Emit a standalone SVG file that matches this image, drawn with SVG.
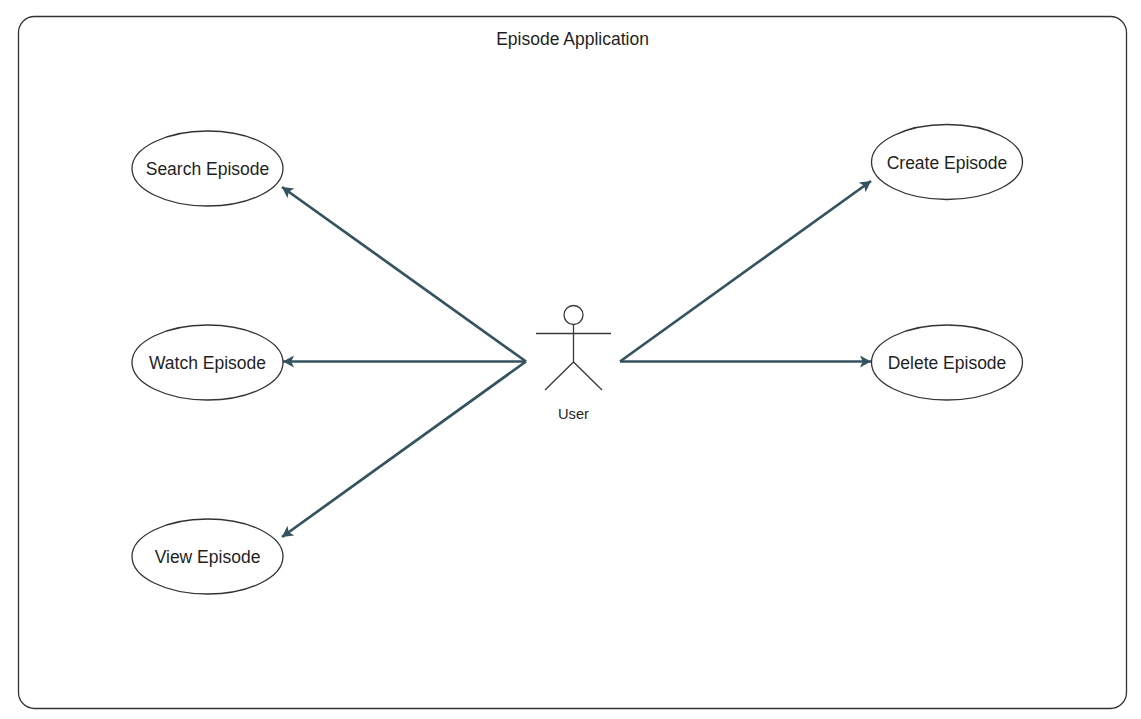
<svg xmlns="http://www.w3.org/2000/svg" width="1141" height="719" viewBox="0 0 1141 719">
<style>
text{font-family:"Liberation Sans",Arial,sans-serif;font-size:17.5px;fill:#1f1f1f;text-anchor:middle}
.s{fill:#fff;stroke:#333;stroke-width:1.3}
.a{fill:none;stroke:#35525f;stroke-width:2.7;marker-end:url(#h)}
.l{fill:none;stroke:#3a3a3a;stroke-width:1.3}
</style>
<defs><marker id="h" markerUnits="userSpaceOnUse" markerWidth="14" markerHeight="14" refX="11" refY="6" orient="auto"><path d="M0 0L11 6L0 12L2.700 6Z" fill="#35525f"/></marker></defs>
<rect width="1141" height="719" fill="#fff"/>
<g id="boundary"><rect class="s" x="18.500" y="16.500" width="1108" height="692" rx="16" ry="16"/><text x="572.500" y="45">Episode Application</text></g>
<g id="connectors">
<path class="a" d="M526 361.500L282 187"/>
<path class="a" d="M526 361.500L283 361.500"/>
<path class="a" d="M526 361.500L282 537"/>
<path class="a" d="M620 361.500L871 181"/>
<path class="a" d="M620 361.500L871 361.500"/>
</g>
<g id="search"><ellipse class="s" cx="207.500" cy="168.500" rx="75.500" ry="37.500"/><text x="207.500" y="175">Search Episode</text></g>
<g id="watch"><ellipse class="s" cx="207.500" cy="362.500" rx="75.500" ry="37.500"/><text x="207.500" y="369">Watch Episode</text></g>
<g id="view"><ellipse class="s" cx="207.500" cy="556.500" rx="75.500" ry="37.500"/><text x="207.500" y="563">View Episode</text></g>
<g id="create"><ellipse class="s" cx="947" cy="162" rx="75.500" ry="37.500"/><text x="947" y="168.500">Create Episode</text></g>
<g id="delete"><ellipse class="s" cx="947" cy="362.500" rx="75.500" ry="37.500"/><text x="947" y="369">Delete Episode</text></g>
<g id="user"><circle class="l" cx="573.500" cy="315" r="9.500"/><path class="l" d="M573.500 324.500V362M536 333.500H611M545 390L573.500 362L602 390"/><text x="573.500" y="419" style="font-size:14.700px">User</text></g>
</svg>
